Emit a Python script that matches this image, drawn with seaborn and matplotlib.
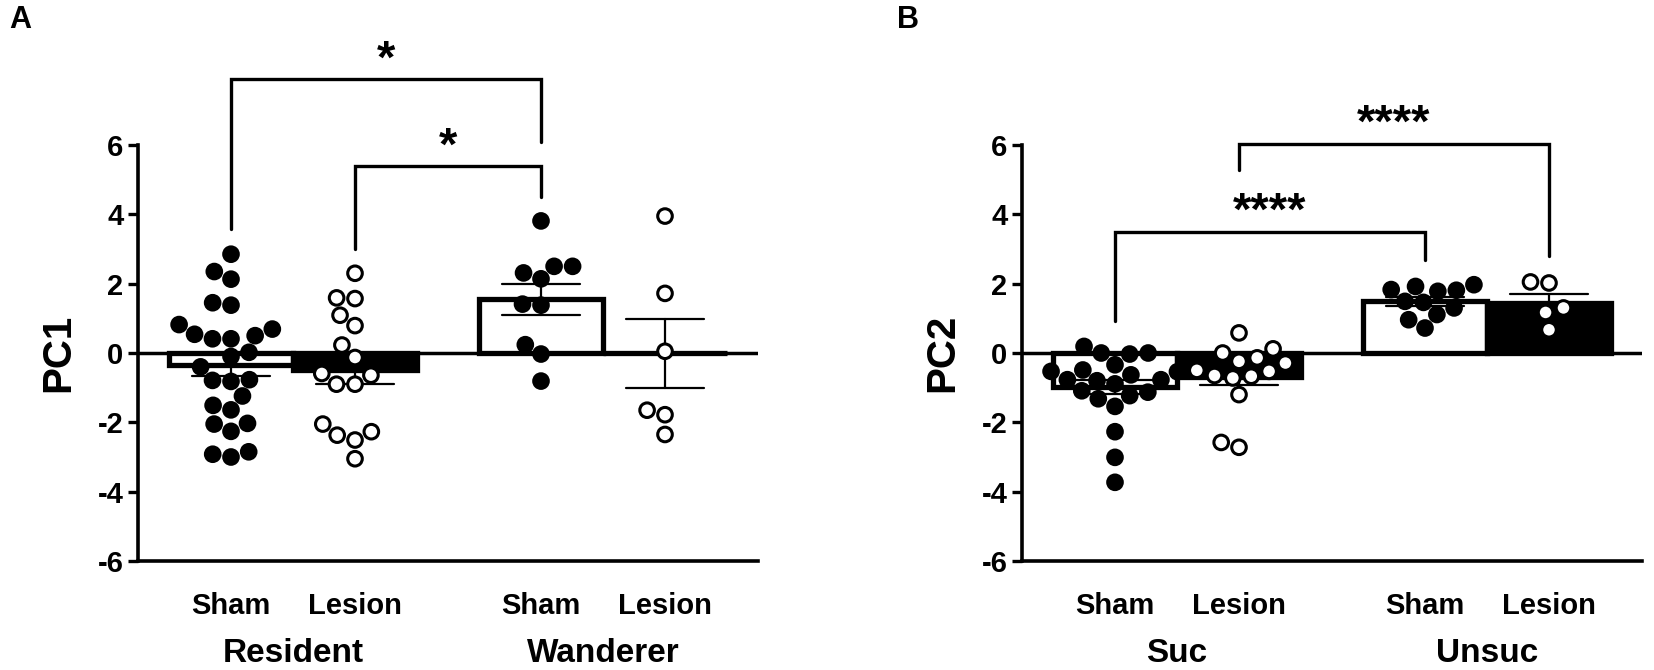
import numpy as np
import pandas as pd
import seaborn as sns
import matplotlib.pyplot as plt
import matplotlib.transforms as mtransforms

sns.set_theme(style="white")
plt.rcParams['font.family'] = ['Liberation Sans', 'DejaVu Sans']
plt.rcParams['font.weight'] = 'bold'
plt.rcParams['axes.unicode_minus'] = False
for key in ['text.color', 'axes.labelcolor', 'xtick.color', 'ytick.color', 'axes.edgecolor']:
    plt.rcParams[key] = 'black'

# ---- data ----
treatments = ['Sham', 'Lesion']

groups_a = ['Resident', 'Wanderer']
res_sham = [2.85, 2.35, 2.13, 1.45, 1.38, 0.82, 0.41, 0.69, 0.41, 0.54, 0.50, 0.02, -0.10,
            -0.40, -0.77, -0.82, -0.79, -1.24, -1.51, -1.64, -2.03, -2.05, -2.26, -3.00, -2.85, -2.92]
res_lesion = [2.30, 1.57, 1.59, 1.09, 0.79, 0.23, -0.13, -0.59, -0.64, -0.90, -0.90,
              -2.37, -2.05, -2.51, -2.27, -3.05]
wan_sham = [3.81, 2.50, 2.50, 2.31, 2.14, 1.41, 1.38, 0.24, -0.03, -0.81]
wan_lesion = [3.95, 1.72, 0.05, -1.65, -1.78, -2.35]

groups_b = ['Suc', 'Unsuc']
suc_sham = [0.0, -0.03, 0.0, 0.19, -0.51, -0.54, -0.63, -0.53, -0.34, -0.49, -0.80, -0.77,
            -0.89, -1.09, -0.77, -1.23, -1.32, -1.13, -1.54, -2.27, -3.01, -3.73]
suc_lesion = [0.58, 0.12, 0.0, -0.14, -0.24, -0.29, -0.53, -0.65, -0.72, -0.67, -0.50,
              -1.20, -2.72, -2.58]
unsuc_sham = [1.83, 1.78, 1.92, 1.81, 1.97, 1.46, 1.30, 1.49, 1.11, 0.96, 0.72]
unsuc_lesion = [2.05, 2.02, 1.30, 1.17, 0.67]

y_ticks = [-6, -4, -2, 0, 2, 4, 6]

# brackets: (x_left, y_left_end, x_right, y_right_end, y_top, stars, star_y)
brackets_a = [(-0.2, 3.58, 0.8, 6.1, 7.9, '*', 7.8),
              (0.2, 3.0, 0.8, 4.5, 5.4, '*', 5.3)]
brackets_b = [(-0.2, 0.91, 0.8, 2.69, 3.48, '****', 3.4),
              (0.2, 5.29, 1.2, 2.79, 6.03, '****', 5.95)]


def make_df(groups, sham_a, lesion_a, sham_b, lesion_b):
    rows = []
    for g, s, l in [(groups[0], sham_a, lesion_a), (groups[1], sham_b, lesion_b)]:
        rows += [(g, 'Sham', v) for v in s]
        rows += [(g, 'Lesion', v) for v in l]
    return pd.DataFrame(rows, columns=['group', 'treat', 'value'])


def draw_panel(ax, df, groups, ylab, brackets):
    sns.barplot(data=df, x='group', y='value', hue='treat', order=groups,
                hue_order=treatments, palette={'Sham': 'white', 'Lesion': 'black'},
                edgecolor='black', linewidth=3.8, errorbar='se', capsize=0.5,
                err_kws={'color': 'black', 'linewidth': 1.6}, legend=False, ax=ax)
    sns.swarmplot(data=df, x='group', y='value', hue='treat', order=groups,
                  hue_order=treatments, dodge=True,
                  palette={'Sham': 'black', 'Lesion': 'white'},
                  edgecolor='black', linewidth=2.2, size=10.5, legend=False, ax=ax, zorder=4)
    ax.axhline(0, color='black', lw=2.5, zorder=3)
    ax.set_xlim(-0.5, 1.5)
    ax.set_ylim(-6, 6)
    ax.set_yticks(y_ticks)
    ax.set_yticklabels([str(t) for t in y_ticks])
    ax.set_xticks([-0.2, 0.2, 0.8, 1.2])
    ax.set_xticklabels(treatments * 2)
    ax.tick_params(axis='x', length=0, pad=22, labelsize=21)
    ax.tick_params(axis='y', length=7.5, width=2.4, labelsize=21, pad=3, left=True)
    ax.set_xlabel('')
    ax.set_ylabel('')
    sns.despine(ax=ax)
    for sp in ['left', 'bottom']:
        ax.spines[sp].set_linewidth(2.6)
        ax.spines[sp].set_color('black')
    ax.text(-0.129, 0.5, ylab, transform=ax.transAxes, rotation=90,
            ha='center', va='center', fontsize=29)
    trans = mtransforms.blended_transform_factory(ax.transData, ax.transAxes)
    for i, g in enumerate(groups):
        ax.text(i, -0.222, g, transform=trans, ha='center', va='center', fontsize=24)
    for xl, yl, xr, yr, yt, st, sy in brackets:
        ax.plot([xl, xl, xr, xr], [yl, yt, yt, yr], color='black', lw=2.4,
                clip_on=False, solid_joinstyle='miter')
        ax.text((xl + xr) / 2, sy, st, ha='center', va='bottom', fontsize=34,
                clip_on=False)


fig = plt.figure(figsize=(16.54, 6.70), dpi=100)
ax_a = fig.add_axes([138 / 1654, 1 - 561 / 670, 620 / 1654, 416 / 670])
ax_b = fig.add_axes([1022 / 1654, 1 - 561 / 670, 620 / 1654, 416 / 670])

df_a = make_df(groups_a, res_sham, res_lesion, wan_sham, wan_lesion)
df_b = make_df(groups_b, suc_sham, suc_lesion, unsuc_sham, unsuc_lesion)

draw_panel(ax_a, df_a, groups_a, 'PC1', brackets_a)
draw_panel(ax_b, df_b, groups_b, 'PC2', brackets_b)

fig.text(20 / 1654, 1 - 20 / 670, 'A', ha='center', va='center', fontsize=22)
fig.text(908 / 1654, 1 - 20 / 670, 'B', ha='center', va='center', fontsize=22)

fig.savefig('out.png', dpi=100)
